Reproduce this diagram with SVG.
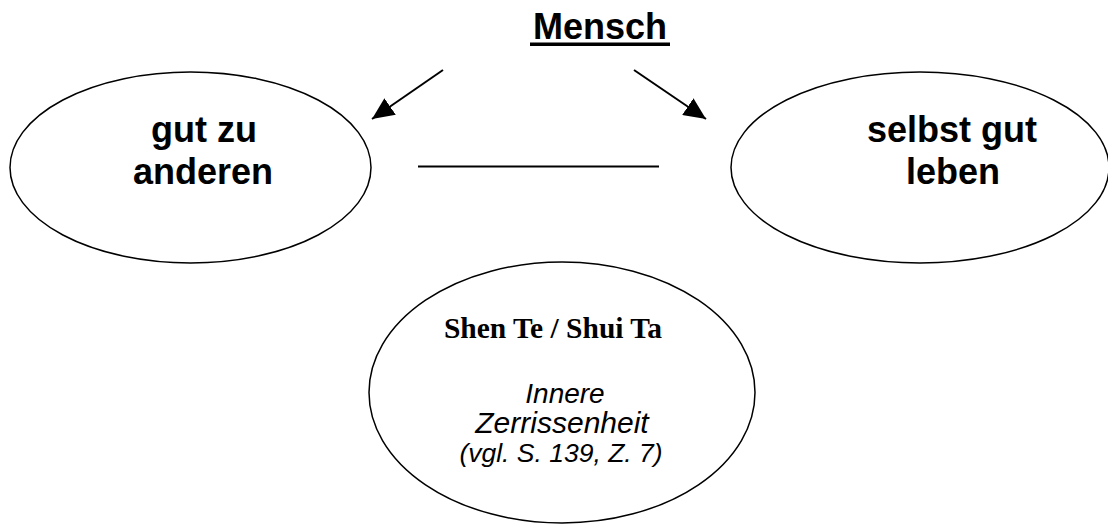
<svg xmlns="http://www.w3.org/2000/svg" width="1108" height="524" viewBox="0 0 1108 524">
  <style>
    .oval { fill: #fff; stroke: #000; stroke-width: 1.5; }
    .big { font-family: "Liberation Sans", Arial, sans-serif; font-weight: bold; font-size: 36px; fill: #000; text-anchor: middle; }
    .name { font-family: "Liberation Serif", "Times New Roman", serif; font-weight: bold; font-size: 29.5px; fill: #000; text-anchor: middle; }
    .note { font-family: "Liberation Sans", Arial, sans-serif; font-style: italic; fill: #000; text-anchor: middle; }
    .edge { stroke: #000; stroke-width: 2; fill: none; }
  </style>
  <defs>
    <marker id="head" markerUnits="userSpaceOnUse" markerWidth="22" markerHeight="20" refX="22" refY="10" orient="auto">
      <path d="M0,0 L22,10 L0,20 z" fill="#000"/>
    </marker>
  </defs>
  <rect width="1108" height="524" fill="#fff"/>

  <!-- title -->
  <g id="title">
    <text class="big" x="600" y="39">Mensch</text>
    <line x1="530" y1="44.2" x2="670" y2="44.2" stroke="#000" stroke-width="3.4"/>
  </g>

  <!-- left oval -->
  <g id="gut-zu-anderen">
    <ellipse class="oval" cx="190.5" cy="167.5" rx="180.5" ry="95.5"/>
    <text class="big" x="204" y="142">gut zu</text>
    <text class="big" x="203" y="184">anderen</text>
  </g>

  <!-- right oval -->
  <g id="selbst-gut-leben">
    <ellipse class="oval" cx="920" cy="167.5" rx="189" ry="95.5"/>
    <text class="big" x="952" y="142">selbst gut</text>
    <text class="big" x="953" y="184">leben</text>
  </g>

  <!-- bottom oval -->
  <g id="shen-te-shui-ta">
    <ellipse class="oval" cx="562" cy="392.5" rx="193" ry="130.5"/>
    <text class="name" x="553" y="338">Shen Te / Shui Ta</text>
    <text class="note" x="565" y="403" font-size="28">Innere</text>
    <text class="note" x="562" y="433" font-size="30">Zerrissenheit</text>
    <text class="note" x="561" y="462" font-size="26.5">(vgl. S. 139, Z. 7)</text>
  </g>

  <!-- connectors -->
  <g id="connectors">
    <line class="edge" x1="443" y1="70" x2="372" y2="119" marker-end="url(#head)"/>
    <line class="edge" x1="634" y1="70" x2="706" y2="119" marker-end="url(#head)"/>
    <line class="edge" x1="418" y1="166.5" x2="659" y2="166.5"/>
  </g>
</svg>
